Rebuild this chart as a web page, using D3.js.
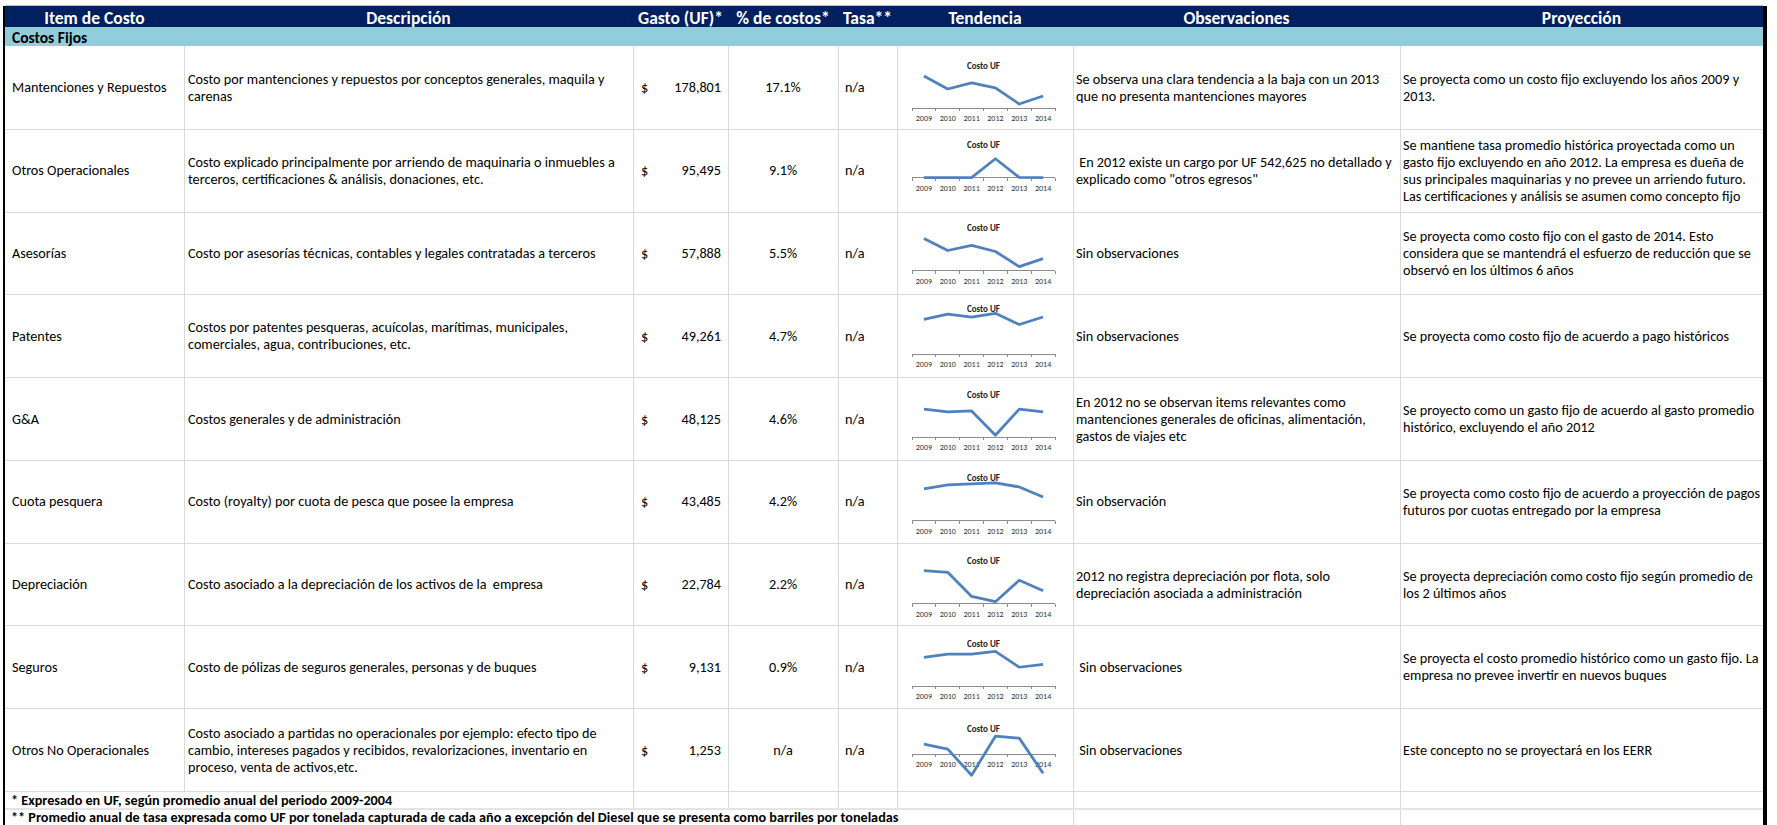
<!DOCTYPE html>
<html>
<head>
<meta charset="utf-8">
<script src="https://cdn.jsdelivr.net/npm/d3@7"></script>
<style>
  body { margin: 0; background: #fff; }
  svg { display: block; }
  text { font-family: Carlito, Calibri, Lato, sans-serif; }
</style>
</head>
<body>
<svg id="chart"></svg>
<script>
// datos de la tabla

const years = ['2009', '2010', '2011', '2012', '2013', '2014'];

const headers = ['Item de Costo', 'Descripción', 'Gasto (UF)*', '% de costos*', 'Tasa**', 'Tendencia', 'Observaciones', 'Proyección'];

const items = [
  'Mantenciones y Repuestos', 'Otros Operacionales', 'Asesorías', 'Patentes', 'G&A',
  'Cuota pesquera', 'Depreciación', 'Seguros', 'Otros No Operacionales'
];

const descripciones = [
  ['Costo por mantenciones y repuestos por conceptos generales, maquila y', 'carenas'],
  ['Costo explicado principalmente por arriendo de maquinaria o inmuebles a', 'terceros, certificaciones & análisis, donaciones, etc.'],
  ['Costo por asesorías técnicas, contables y legales contratadas a terceros'],
  ['Costos por patentes pesqueras, acuícolas, marítimas, municipales,', 'comerciales, agua, contribuciones, etc.'],
  ['Costos generales y de administración'],
  ['Costo (royalty) por cuota de pesca que posee la empresa'],
  ['Costo asociado a la depreciación de los activos de la  empresa'],
  ['Costo de pólizas de seguros generales, personas y de buques'],
  ['Costo asociado a partidas no operacionales por ejemplo: efecto tipo de', 'cambio, intereses pagados y recibidos, revalorizaciones, inventario en', 'proceso, venta de activos,etc.']
];

const gastoUF = [178801, 95495, 57888, 49261, 48125, 43485, 22784, 9131, 1253];

const pctCostos = [0.171, 0.091, 0.055, 0.047, 0.046, 0.042, 0.022, 0.009, null];

const tasa = ['n/a', 'n/a', 'n/a', 'n/a', 'n/a', 'n/a', 'n/a', 'n/a', 'n/a'];

const observaciones = [
  ['Se observa una clara tendencia a la baja con un 2013', 'que no presenta mantenciones mayores'],
  [' En 2012 existe un cargo por UF 542,625 no detallado y', 'explicado como "otros egresos"'],
  ['Sin observaciones'],
  ['Sin observaciones'],
  ['En 2012 no se observan items relevantes como', 'mantenciones generales de oficinas, alimentación,', 'gastos de viajes etc'],
  ['Sin observación'],
  ['2012 no registra depreciación por flota, solo', 'depreciación asociada a administración'],
  [' Sin observaciones'],
  [' Sin observaciones']
];

const proyecciones = [
  ['Se proyecta como un costo fijo excluyendo los años 2009 y', '2013.'],
  ['Se mantiene tasa promedio histórica proyectada como un', 'gasto fijo excluyendo en año 2012. La empresa es dueña de', 'sus principales maquinarias y no prevee un arriendo futuro.', 'Las certificaciones y análisis se asumen como concepto fijo'],
  ['Se proyecta como costo fijo con el gasto de 2014. Esto', 'considera que se mantendrá el esfuerzo de reducción que se', 'observó en los últimos 6 años'],
  ['Se proyecta como costo fijo de acuerdo a pago históricos'],
  ['Se proyecto como un gasto fijo de acuerdo al gasto promedio', 'histórico, excluyendo el año 2012'],
  ['Se proyecta como costo fijo de acuerdo a proyección de pagos', 'futuros por cuotas entregado por la empresa'],
  ['Se proyecta depreciación como costo fijo según promedio de', 'los 2 últimos años'],
  ['Se proyecta el costo promedio histórico como un gasto fijo. La', 'empresa no prevee invertir en nuevos buques'],
  ['Este concepto no se proyectará en los EERR']
];

const costoMantenciones = [306000, 182000, 240000, 192000, 38000, 115000];
const costoOtrosOper = [4000, 3000, 5000, 545000, 12000, 4000];
const costoAsesorias = [99000, 62000, 78000, 59000, 12000, 37000];
const costoPatentes = [47000, 54000, 50000, 55000, 40000, 50000];
const costoGA = [60000, 54000, 56000, 4000, 60000, 54000];
const costoCuota = [41500, 46700, 48000, 49300, 44000, 31000];
const costoDepreciacion = [41000, 39000, 9000, 2500, 29000, 16000];
const costoSeguros = [9400, 10400, 10400, 11300, 6200, 7100];
const costoNoOper = [8400, 4200, -17500, 15000, 13400, -15900];

const series = [
  costoMantenciones, costoOtrosOper, costoAsesorias, costoPatentes, costoGA,
  costoCuota, costoDepreciacion, costoSeguros, costoNoOper
];

const notas = [
  '* Expresado en UF, según promedio anual del periodo 2009-2004',
  '** Promedio anual de tasa expresada como UF por tonelada capturada de cada año a excepción del Diesel que se presenta como barriles por toneladas'
];

// diseño

const width = 1777;
const height = 825;
const colEdges = [5, 184, 633, 728, 838, 897, 1073, 1400, 1763];
const headerTop = 6;
const headerBottom = 27;
const bandBottom = 46;
const tableBottom = 791;
const lineH = 17;
const gridColor = '#d9d9d9';

// cada minigráfico tiene su propio marco dentro de la celda (desde el borde superior de la fila)
const sparkFrames = [
  { title: 19, top: 30, bottom: 62 },
  { title: 16, top: 30, bottom: 49 },
  { title: 16, top: 27, bottom: 59 },
  { title: 14, top: 19, bottom: 60 },
  { title: 17, top: 32, bottom: 60 },
  { title: 18, top: 23, bottom: 61 },
  { title: 18, top: 28, bottom: 61 },
  { title: 18, top: 26, bottom: 61 },
  { title: 20, top: 28, bottom: 67 }
];

const svg = d3.select('#chart')
  .attr('width', width)
  .attr('height', height);

svg.append('rect')
  .attr('width', width)
  .attr('height', height)
  .attr('fill', '#fff');

const rowScale = d3.scaleBand()
  .domain(d3.range(items.length))
  .range([bandBottom, tableBottom]);

const rowH = rowScale.bandwidth();

// encabezado
svg.append('rect')
  .attr('x', colEdges[0]).attr('y', headerTop)
  .attr('width', colEdges[8] - colEdges[0]).attr('height', headerBottom - headerTop)
  .attr('fill', '#002060');

svg.append('line')
  .attr('x1', colEdges[0]).attr('x2', colEdges[8])
  .attr('y1', headerTop - 0.5).attr('y2', headerTop - 0.5)
  .attr('stroke', '#bfbfbf');

svg.selectAll('text.header')
  .data(headers)
  .join('text')
  .attr('class', 'header')
  .attr('x', (d, i) => (colEdges[i] + colEdges[i + 1]) / 2)
  .attr('y', (headerTop + headerBottom) / 2 + 1)
  .attr('text-anchor', 'middle')
  .attr('dominant-baseline', 'central')
  .attr('fill', '#fff')
  .attr('font-weight', 'bold')
  .attr('font-size', 17.5)
  .text(d => d);

// franja "Costos Fijos"
svg.append('rect')
  .attr('x', colEdges[0]).attr('y', headerBottom)
  .attr('width', colEdges[8] - colEdges[0]).attr('height', bandBottom - headerBottom)
  .attr('fill', '#92cddc');

svg.append('text')
  .attr('x', 12)
  .attr('y', (headerBottom + bandBottom) / 2 + 1)
  .attr('dominant-baseline', 'central')
  .attr('font-weight', 'bold')
  .attr('font-size', 15.5)
  .text('Costos Fijos');

// cuadrícula
const grid = svg.append('g')
  .attr('stroke', gridColor)
  .attr('shape-rendering', 'crispEdges');

d3.range(1, items.length + 1).forEach(i => {
  const y = i < items.length ? rowScale(i) : tableBottom;
  grid.append('line')
    .attr('x1', colEdges[0]).attr('x2', colEdges[8])
    .attr('y1', y + 0.5).attr('y2', y + 0.5);
});

grid.append('line')
  .attr('x1', colEdges[0]).attr('x2', colEdges[8])
  .attr('y1', 809).attr('y2', 809)
  .attr('stroke', '#e4e4e4')
  .attr('stroke-width', 2);

colEdges.slice(1, 8).forEach((x, i) => {
  grid.append('line')
    .attr('x1', x + 0.5).attr('x2', x + 0.5)
    .attr('y1', bandBottom).attr('y2', tableBottom);
  // las notas al pie tapan las líneas de las celdas que ocupan
  if (i >= 1) {
    grid.append('line')
      .attr('x1', x + 0.5).attr('x2', x + 0.5)
      .attr('y1', tableBottom).attr('y2', 808);
  }
  if (i >= 5) {
    grid.append('line')
      .attr('x1', x + 0.5).attr('x2', x + 0.5)
      .attr('y1', 810).attr('y2', height);
  }
});

// bordes exteriores
svg.append('rect')
  .attr('x', 3).attr('y', headerTop)
  .attr('width', 2).attr('height', height - headerTop)
  .attr('fill', '#000');

svg.append('rect')
  .attr('x', colEdges[8]).attr('y', headerTop)
  .attr('width', 4).attr('height', height - headerTop)
  .attr('fill', '#000');

// celdas de texto
const fontSize = 14.2;

const multiline = (g, lines, x, cy) => {
  const y0 = cy - (lines.length - 1) / 2 * lineH;
  g.append('text')
    .attr('x', x)
    .attr('font-size', fontSize)
    .attr('xml:space', 'preserve')
    .selectAll('tspan')
    .data(lines)
    .join('tspan')
    .attr('x', x)
    .attr('y', (d, i) => y0 + i * lineH)
    .attr('dominant-baseline', 'central')
    .text(d => d);
};

const fmtInt = d3.format(',');
const fmtPct = d3.format('.1%');

const rows = svg.append('g');

items.forEach((item, i) => {
  const top = rowScale(i);
  const cy = top + rowH / 2;
  const g = rows.append('g');

  multiline(g, [item], 12, cy);
  multiline(g, descripciones[i], colEdges[1] + 4, cy);

  g.append('text')
    .attr('x', colEdges[2] + 8).attr('y', cy)
    .attr('dominant-baseline', 'central')
    .attr('font-size', fontSize)
    .text('$');

  g.append('text')
    .attr('x', colEdges[3] - 7).attr('y', cy)
    .attr('text-anchor', 'end')
    .attr('dominant-baseline', 'central')
    .attr('font-size', fontSize)
    .text(fmtInt(gastoUF[i]));

  g.append('text')
    .attr('x', (colEdges[3] + colEdges[4]) / 2).attr('y', cy)
    .attr('text-anchor', 'middle')
    .attr('dominant-baseline', 'central')
    .attr('font-size', fontSize)
    .text(pctCostos[i] === null ? 'n/a' : fmtPct(pctCostos[i]));

  g.append('text')
    .attr('x', colEdges[4] + 7).attr('y', cy)
    .attr('dominant-baseline', 'central')
    .attr('font-size', fontSize)
    .text(tasa[i]);

  multiline(g, observaciones[i], colEdges[6] + 3, cy);
  multiline(g, proyecciones[i], colEdges[7] + 3, cy);

  drawSpark(g, series[i], sparkFrames[i], top);
});

// minigráfico "Costo UF"
function drawSpark(g, values, frame, top) {
  const x = d3.scaleBand()
    .domain(years)
    .range([colEdges[5] + 15, colEdges[6] - 18]);

  const y = d3.scaleLinear()
    .domain([Math.min(0, d3.min(values)), d3.max(values)])
    .range([top + frame.bottom, top + frame.top]);

  const cx = (x.range()[0] + x.range()[1]) / 2;

  g.append('text')
    .attr('x', cx)
    .attr('y', top + frame.title)
    .attr('text-anchor', 'middle')
    .attr('dominant-baseline', 'central')
    .attr('font-size', 9)
    .attr('font-weight', 'bold')
    .attr('fill', '#222')
    .text('Costo UF');

  const axisY = y(0);
  const ax = g.append('g')
    .attr('stroke', '#8c8c8c')
    .attr('shape-rendering', 'crispEdges');

  ax.append('line')
    .attr('x1', x.range()[0]).attr('x2', x.range()[1])
    .attr('y1', axisY).attr('y2', axisY);

  const edges = years.map(d => x(d)).concat(x.range()[1]);
  ax.selectAll('line.tick')
    .data(edges)
    .join('line')
    .attr('class', 'tick')
    .attr('x1', d => d).attr('x2', d => d)
    .attr('y1', axisY).attr('y2', axisY + 3);

  g.selectAll(null)
    .data(years)
    .join('text')
    .attr('x', d => x(d) + x.bandwidth() / 2)
    .attr('y', axisY + 10)
    .attr('text-anchor', 'middle')
    .attr('dominant-baseline', 'central')
    .attr('font-size', 8)
    .attr('fill', '#333')
    .text(d => d);

  const line = d3.line()
    .x((d, i) => x(years[i]) + x.bandwidth() / 2)
    .y(d => y(d));

  g.append('path')
    .datum(values)
    .attr('d', line)
    .attr('fill', 'none')
    .attr('stroke', '#4f81bd')
    .attr('stroke-width', 2.75)
    .attr('stroke-linejoin', 'round');
}

// notas al pie
notas.forEach((nota, i) => {
  svg.append('text')
    .attr('x', 11)
    .attr('y', i === 0 ? 800 : 817)
    .attr('dominant-baseline', 'central')
    .attr('font-size', 14.2)
    .attr('font-weight', 'bold')
    .text(nota);
});
</script>
</body>
</html>
